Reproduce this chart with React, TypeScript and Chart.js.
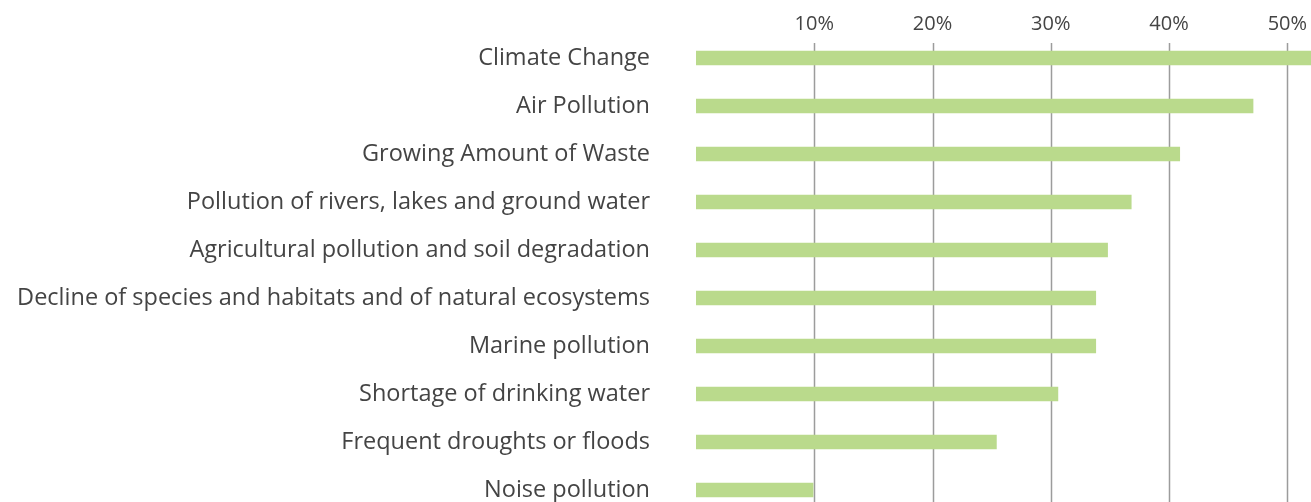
import React, { useEffect, useRef } from "react";
import { Chart, registerables } from "chart.js";

Chart.register(...registerables);

const categories: string[] = [
  "Climate Change",
  "Air Pollution",
  "Growing Amount of Waste",
  "Pollution of rivers, lakes and ground water",
  "Agricultural pollution and soil degradation",
  "Decline of species and habitats and of natural ecosystems",
  "Marine pollution",
  "Shortage of drinking water",
  "Frequent droughts or floods",
  "Noise pollution",
];

const shares: number[] = [52.5, 47.1, 40.9, 36.8, 34.8, 33.8, 33.8, 30.6, 25.4, 9.9];

const tickValues: number[] = [10, 20, 30, 40, 50];

const BAR_COLOR = "#bada8c";
const TEXT_COLOR = "#444444";
const GRID_COLOR = "#9c9c9c";
const FONT = "'Open Sans', sans-serif";

const gridPlugin = {
  id: "gridBelowTop",
  beforeDatasetsDraw(chart: any) {
    const { ctx, chartArea, scales } = chart;
    const x = scales.x;
    ctx.save();
    ctx.strokeStyle = GRID_COLOR;
    ctx.lineWidth = 1.5;
    for (const v of tickValues) {
      const px = Math.round(x.getPixelForValue(v)) + 0.5;
      ctx.beginPath();
      ctx.moveTo(px, chartArea.top + 9);
      ctx.lineTo(px, chartArea.bottom);
      ctx.stroke();
    }
    ctx.restore();
  },
};

export default function App() {
  const ref = useRef<HTMLCanvasElement | null>(null);

  useEffect(() => {
    document.body.style.margin = "0";
    document.body.style.overflow = "hidden";
    if (!ref.current) return;
    const chart = new Chart(ref.current, {
      type: "bar",
      data: {
        labels: categories,
        datasets: [
          {
            data: shares,
            backgroundColor: BAR_COLOR,
            borderWidth: 0,
            barThickness: 14,
          },
        ],
      },
      options: {
        indexAxis: "y",
        animation: false,
        responsive: false,
        maintainAspectRatio: false,
        layout: { padding: 0 },
        plugins: {
          legend: { display: false },
          tooltip: { enabled: false },
          title: { display: false },
        },
        scales: {
          x: {
            position: "top",
            min: 0,
            max: 52,
            grid: { display: false, drawTicks: false },
            border: { display: false },
            afterFit(scale: any) {
              scale.height = 34;
            },
            afterBuildTicks(scale: any) {
              scale.ticks = tickValues.map((v) => ({ value: v }));
            },
            ticks: {
              padding: -2,
              color: TEXT_COLOR,
              font: { family: FONT, size: 20 },
              callback: (v: any) => `${v}%`,
            },
          },
          y: {
            grid: { display: false, drawTicks: false },
            border: { display: false },
            afterFit(scale: any) {
              scale.width = 696;
              scale.paddingTop = 0;
              scale.paddingBottom = 0;
            },
            ticks: {
              padding: 46,
              color: TEXT_COLOR,
              font: { family: FONT, size: 23.5 },
            },
          },
        },
      },
      plugins: [gridPlugin],
    });
    return () => chart.destroy();
  }, []);

  return (
    <div style={{ width: 1311, height: 502, overflow: "hidden" }}>
      <canvas ref={ref} width={1311} height={514} style={{ display: "block" }} />
    </div>
  );
}
